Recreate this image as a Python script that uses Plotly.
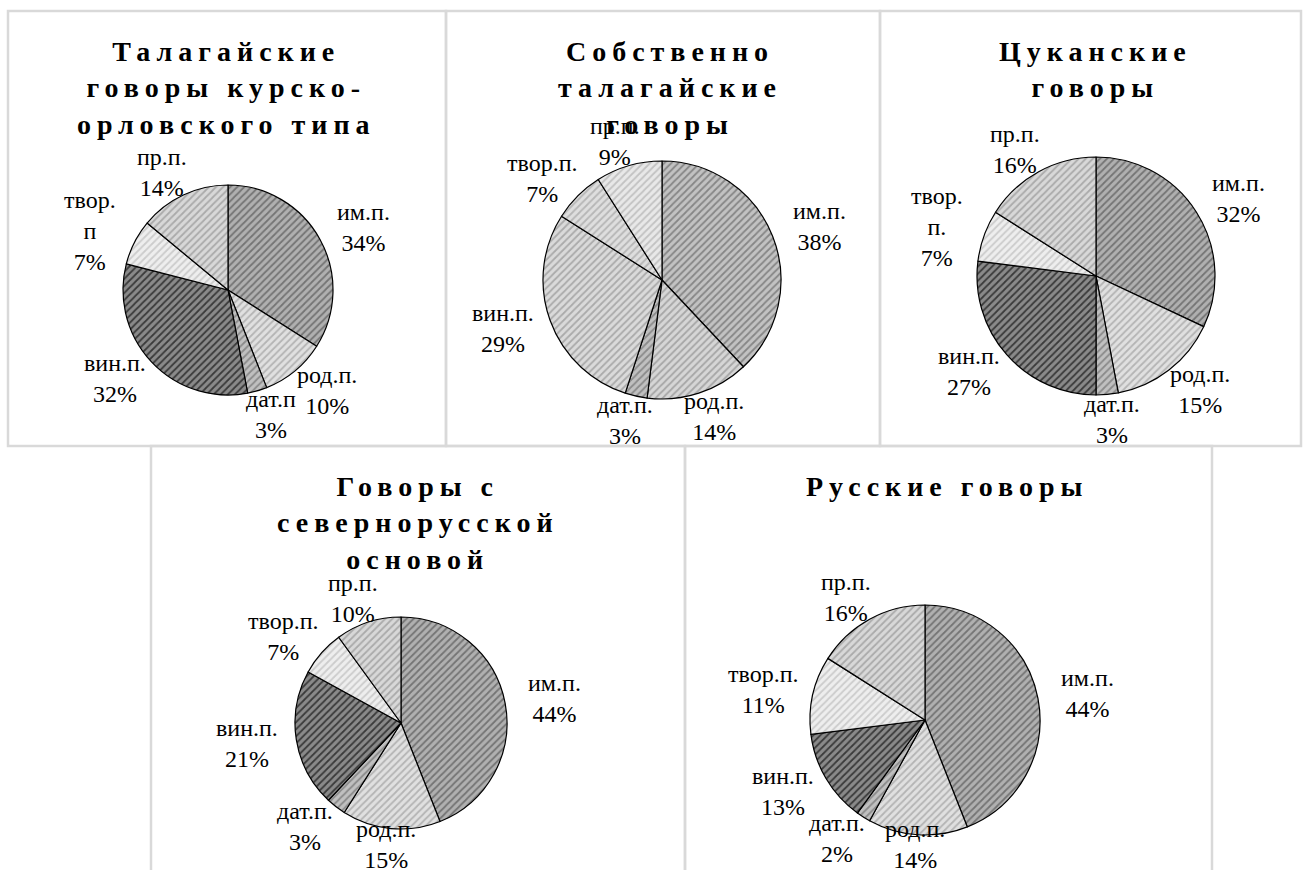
import math
import plotly.graph_objects as go

# ---- data ----
cases = ["им.п.", "род.п.", "дат.п.", "вин.п.", "твор.п.", "пр.п."]

titles = [
    "Талагайские<br>говоры курско-<br>орловского типа",
    "Собственно<br>талагайские<br>говоры",
    "Цуканские<br>говоры",
    "Говоры с<br>севернорусской<br>основой",
    "Русские говоры",
]

values_kursk_orel = [34, 10, 3, 32, 7, 14]
values_talagai = [38, 14, 3, 29, 7, 9]
values_tsukan = [32, 15, 3, 27, 7, 16]
values_north = [44, 15, 3, 21, 7, 10]
values_russian = [44, 14, 2, 13, 11, 16]

labels_kursk_orel = ["им.п.", "род.п.", "дат.п", "вин.п.", "твор.<br>п", "пр.п."]
labels_talagai = cases
labels_tsukan = ["им.п.", "род.п.", "дат.п.", "вин.п.", "твор.<br>п.", "пр.п."]
labels_north = cases
labels_russian = cases

all_values = [values_kursk_orel, values_talagai, values_tsukan, values_north, values_russian]
all_labels = [labels_kursk_orel, labels_talagai, labels_tsukan, labels_north, labels_russian]

# ---- layout / style ----
W, H = 1303, 870
# (center x, center y, radius) in pixels
pies = [(228, 290, 105), (662, 280, 119), (1096, 276, 119), (401, 723, 106), (925, 720, 115)]
title_pos = [(226, 34), (670, 34), (1095, 34), (418, 469), (947, 469)]
label_dx, label_dy = 50, 25   # distance of data labels beyond the pie edge
label_size = 24

bg_dark = ["#b0b0b0", "#e0e0e0", "#c0c0c0", "#8a8a8a", "#eeeeee", "#d8d8d8"]
fg_dark = ["#747474", "#b4b4b4", "#8a8a8a", "#3a3a3a", "#cccccc", "#aaaaaa"]
bg_light = ["#c2c2c2", "#d6d6d6", "#c0c0c0", "#dadada", "#dedede", "#e8e8e8"]
fg_light = ["#868686", "#a6a6a6", "#8a8a8a", "#aaaaaa", "#b6b6b6", "#c2c2c2"]

font_family = "Liberation Serif"

fig = go.Figure()
annotations = []
for i, (vals, labs) in enumerate(zip(all_values, all_labels)):
    cx, cy, r = pies[i]
    bg = bg_light if i == 1 else bg_dark
    fg = fg_light if i == 1 else fg_dark
    fig.add_trace(go.Pie(
        labels=cases,
        values=vals,
        textinfo="none",
        sort=False,
        direction="clockwise",
        rotation=0,
        showlegend=False,
        automargin=False,
        hoverinfo="label+value",
        marker=dict(
            colors=bg,
            line=dict(color="#000000", width=1.2),
            pattern=dict(shape="/", fgcolor=fg, bgcolor=bg, size=5, solidity=0.35),
        ),
        domain=dict(x=[(cx - r) / W, (cx + r) / W], y=[1 - (cy + r) / H, 1 - (cy - r) / H]),
    ))
    # data labels at the mid-angle of each slice, kept inside the chart area
    total = float(sum(vals))
    cum = 0.0
    for v, lab in zip(vals, labs):
        mid = (cum + v / 2.0) / total * 2 * math.pi
        cum += v
        lx = cx + (r + label_dx) * math.sin(mid)
        ly = cy - (r + label_dy) * math.cos(mid)
        ly = min(ly, H - 26)
        annotations.append(dict(
            text=f"{lab}<br>{v}%", x=lx / W, y=1 - ly / H, xref="paper", yref="paper",
            xanchor="center", yanchor="middle", showarrow=False,
            font=dict(family=font_family, size=label_size, color="#000000"),
        ))

for (tx, ty), t in zip(title_pos, titles):
    annotations.append(dict(
        text="<b>" + t + "</b>", x=tx / W, y=1 - ty / H, xref="paper", yref="paper",
        xanchor="center", yanchor="top", showarrow=False,
        font=dict(family=font_family, size=28, color="#000000"),
    ))

panels = [(8, 11, 446, 446), (446, 11, 880, 446), (880, 11, 1301, 446),
          (151, 446, 685, 872), (685, 446, 1212, 872)]
shapes = []
for x0, y0, x1, y1 in panels:
    shapes.append(dict(type="rect", xref="paper", yref="paper",
                       x0=x0 / W, x1=x1 / W, y0=1 - y1 / H, y1=1 - y0 / H,
                       line=dict(color="#d9d9d9", width=2.5), fillcolor="rgba(0,0,0,0)", layer="below"))

fig.update_layout(
    width=W, height=H,
    margin=dict(l=0, r=0, t=0, b=0, autoexpand=False),
    paper_bgcolor="#ffffff", plot_bgcolor="#ffffff",
    annotations=annotations, shapes=shapes,
    font=dict(family=font_family),
)

post = """
document.body.style.margin = '0';
document.querySelectorAll('.annotation-text').forEach(function(el){
  if (parseFloat(el.style.fontSize) >= 27) {
    el.setAttribute('letter-spacing', '6px');
  }
});
"""
fig.write_html("out.html", post_script=post, config={"displayModeBar": False})
